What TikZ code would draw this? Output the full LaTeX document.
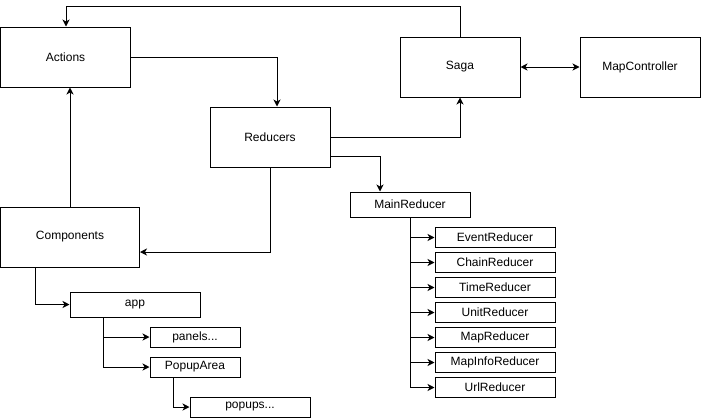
\documentclass[tikz,border=0pt]{standalone}
\usepackage{fontspec}
\setmainfont{Liberation Sans}
\usetikzlibrary{arrows.meta,calc}
\tikzset{
  box/.style={draw=black, line width=1pt, rectangle, inner sep=0pt, fill=white,
    font=\fontsize{12}{14}\selectfont},
  bigbox/.style={box, minimum width=120pt, minimum height=60pt},
  smallbox/.style={box, minimum width=120pt, minimum height=20pt},
  arr/.style={line width=1pt, -{Stealth[length=7pt,width=7pt,inset=2pt]}},
  darr/.style={line width=1pt, {Stealth[length=7pt,width=7pt,inset=2pt]}-{Stealth[length=7pt,width=7pt,inset=2pt]}}
}
\begin{document}
\begin{tikzpicture}[x=1pt,y=-1pt]
\useasboundingbox (0,0) rectangle (701,418);
% big boxes
\node[bigbox, minimum width=130pt] (actions) at (65.5,57) {Actions};
\node[bigbox] (saga) at (460,67) {Saga};
\node[bigbox] (mapctrl) at (640,67) {MapController};
\node[bigbox] (reducers) at (270,137) {Reducers};
\node[bigbox, minimum width=139pt] (components) at (70,237) {Components};
% reducer tree
\node[smallbox, minimum height=25pt] (mainred) at (410,204.5) {MainReducer};
\node[smallbox] (r1) at (495,237.5) {EventReducer};
\node[smallbox] (r2) at (495,262.5) {ChainReducer};
\node[smallbox] (r3) at (495,287.5) {TimeReducer};
\node[smallbox] (r4) at (495,312.5) {UnitReducer};
\node[smallbox] (r5) at (495,337.5) {MapReducer};
\node[smallbox] (r6) at (495,362.5) {MapInfoReducer};
\node[smallbox] (r7) at (495,387.5) {UrlReducer};
% component tree
\node[smallbox, minimum width=130pt, minimum height=25pt] (app) at (135,304.5) {app};
\node[smallbox, minimum width=90pt] (panels) at (195,337) {panels...};
\node[smallbox, minimum width=90pt] (popuparea) at (195,367) {PopupArea};
\node[smallbox] (popups) at (250,407) {popups...};
% connectors
\draw[arr] (saga.north) -- ++(0,-30) -| ($(actions.north)+(0.5,0)$);
\draw[arr] (actions.east) -| ($(reducers.north)+(7,0)$);
\draw[arr] ($(components.north)+(0,0)$) -- (components.north |- actions.south);
\draw[arr] (reducers.east) -| (saga.south);
\draw[arr] ($(reducers.east)+(0,19)$) -| ($(mainred.north)+(-30,0)$);
\draw[arr] (reducers.south) |- ($(components.east)+(0,15)$);
\draw[darr] (saga.east) -- (mapctrl.west);
\draw[arr] ($(components.south)+(-35,0)$) |- (app.west);
\draw[arr] ($(app.south)+(-32,0)$) |- (panels.west);
\draw[arr] ($(app.south)+(-32,0)$) |- (popuparea.west);
\draw[arr] ($(popuparea.south)+(-22,0)$) |- (popups.west);
\foreach \r in {r1,r2,r3,r4,r5,r6,r7}
  \draw[arr] (mainred.south) |- (\r.west);
\end{tikzpicture}
\end{document}
